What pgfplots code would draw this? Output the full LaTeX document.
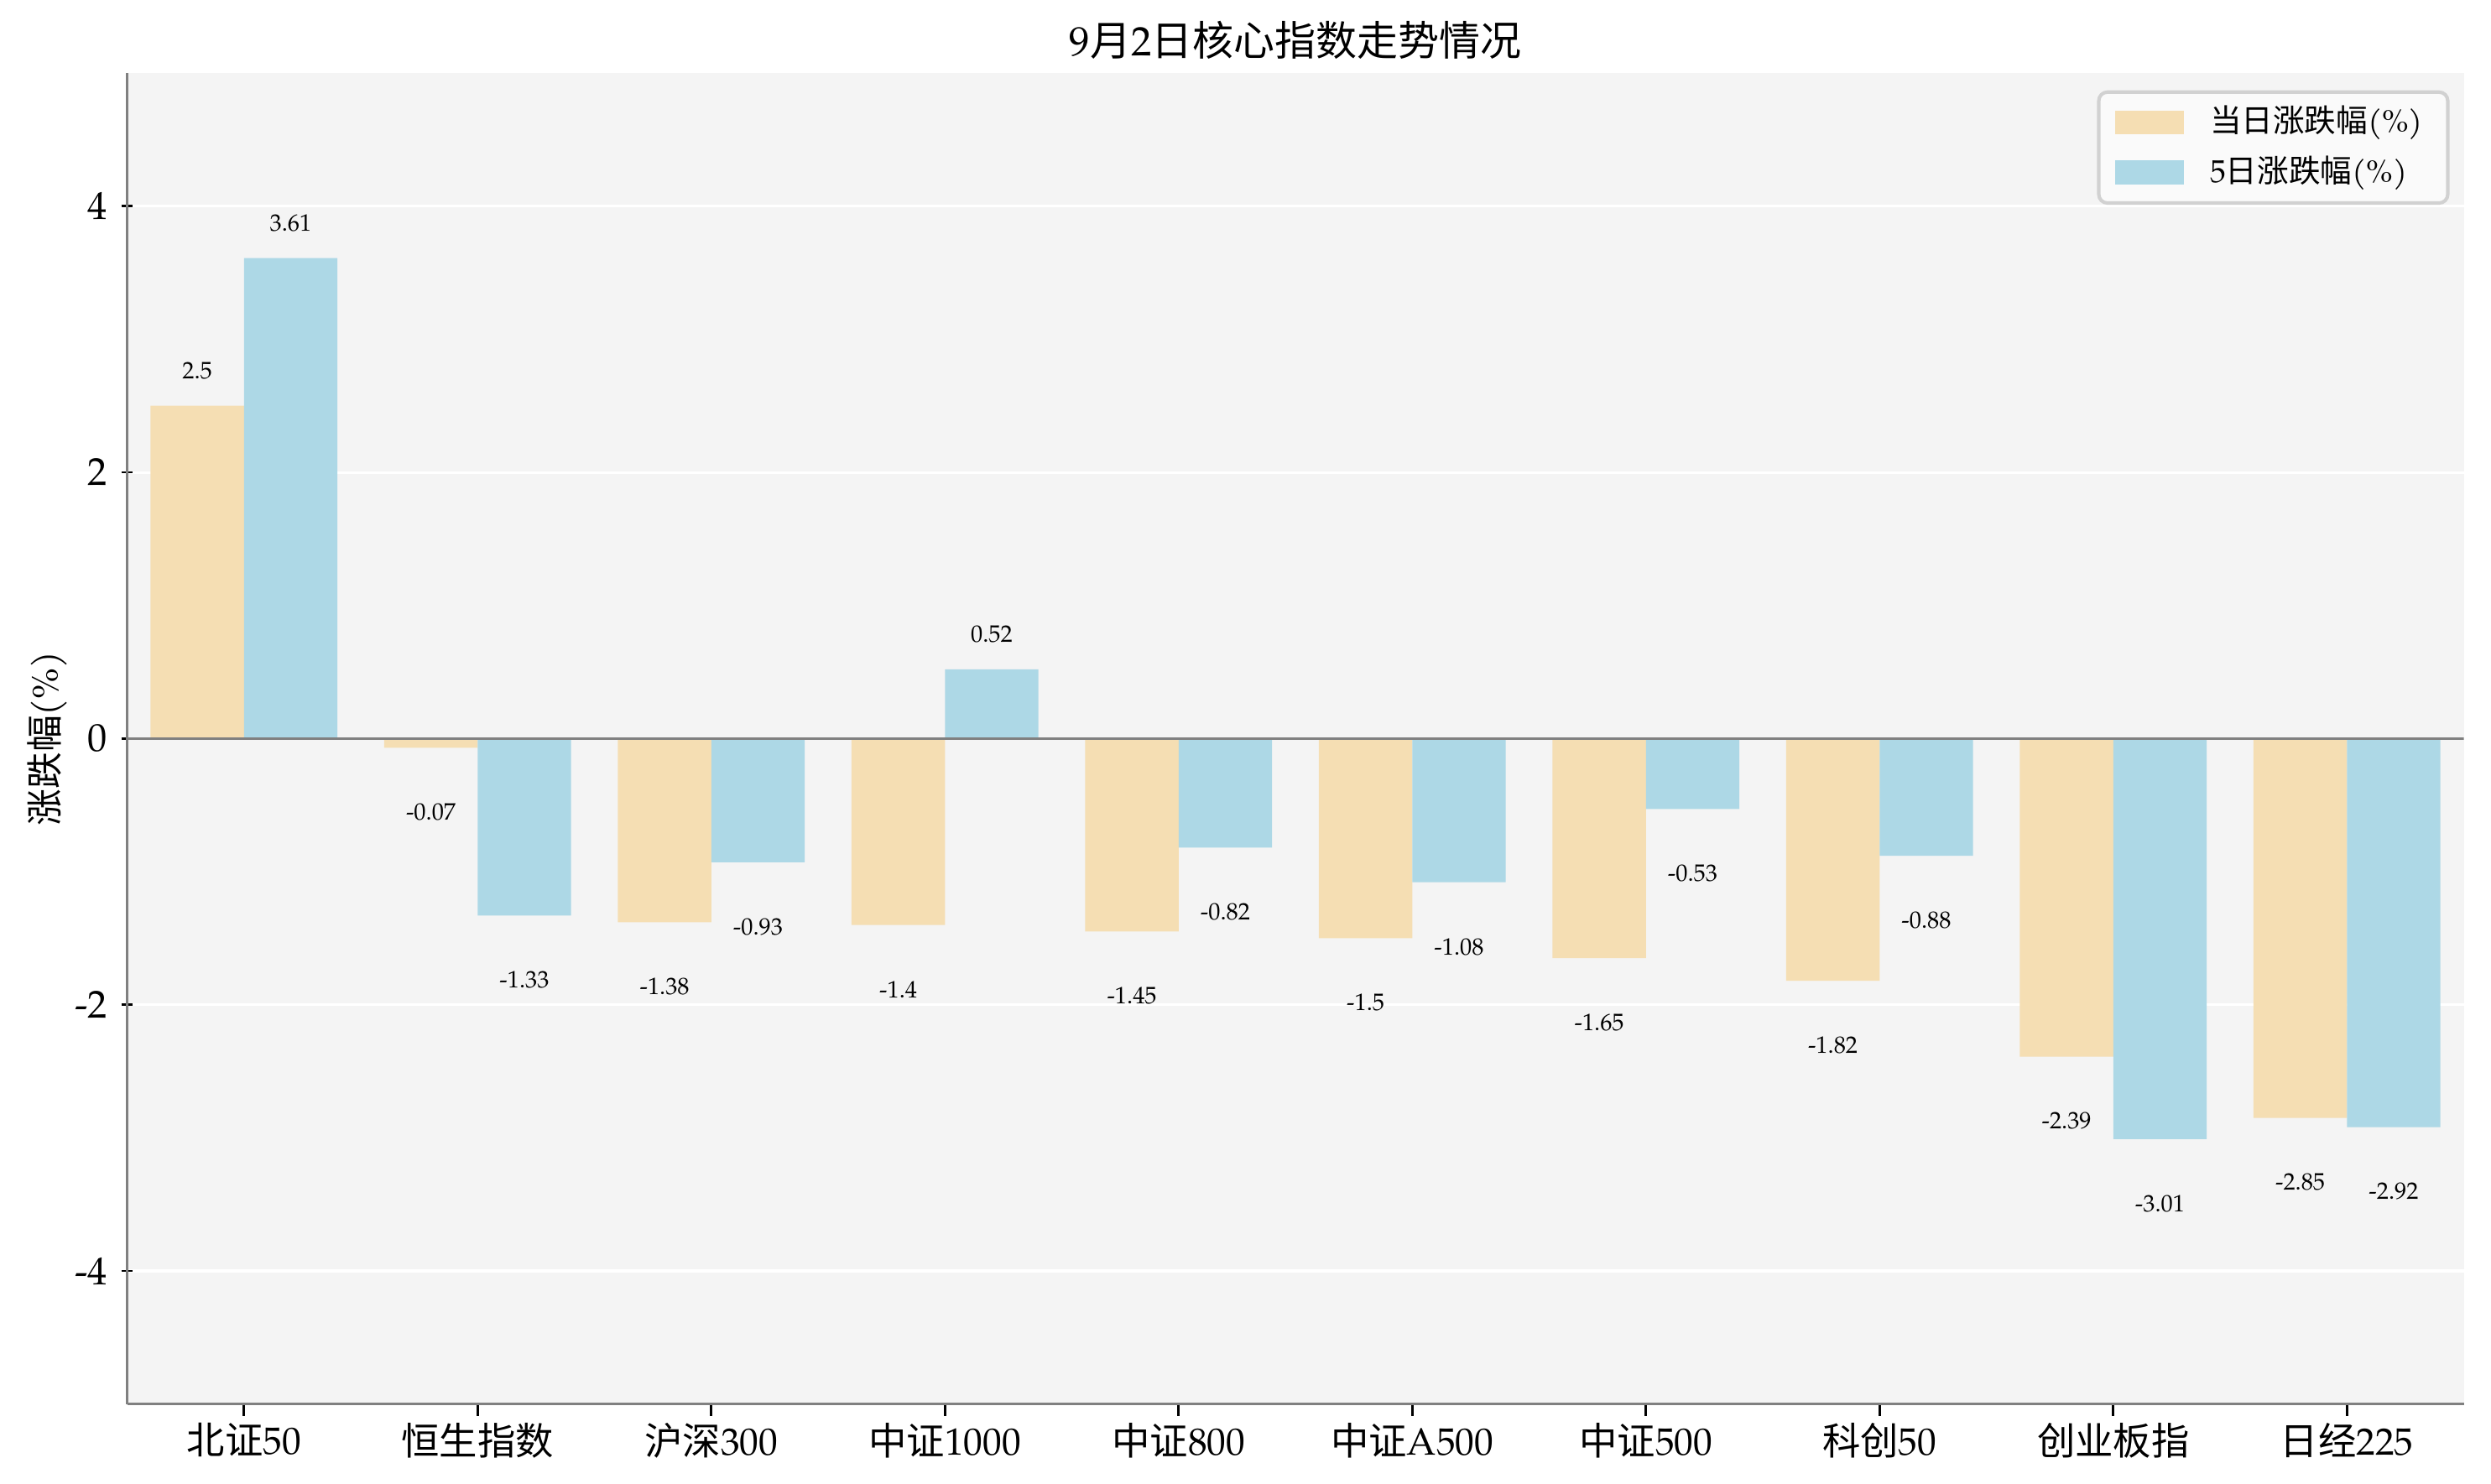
\documentclass[border=0pt]{standalone}
\usepackage{pgfplots}
\pgfplotsset{compat=1.18}
\usepackage{pgfplotstable}
\usepackage{fontspec}
\setmainfont{TeX Gyre Pagella}
\newfontfamily\cjk{Noto Sans CJK SC}
\newcommand\zh[1]{{\cjk #1}}
\definecolor{wheatc}{HTML}{F5DEB3}
\definecolor{lblue}{HTML}{ADD8E6}
\definecolor{bgc}{HTML}{F4F4F4}
\definecolor{axc}{HTML}{808080}

\pgfplotstableread{
x y lab
0 2.5 2.5
1 -0.07 -0.07
2 -1.38 -1.38
3 -1.4 -1.4
4 -1.45 -1.45
5 -1.5 -1.5
6 -1.65 -1.65
7 -1.82 -1.82
8 -2.39 -2.39
9 -2.85 -2.85
}\dayt
\pgfplotstableread{
x y lab
0 3.61 3.61
1 -1.33 -1.33
2 -0.93 -0.93
3 0.52 0.52
4 -0.82 -0.82
5 -1.08 -1.08
6 -0.53 -0.53
7 -0.88 -0.88
8 -3.01 -3.01
9 -2.92 -2.92
}\fivet

\begin{document}
\begin{tikzpicture}
\useasboundingbox (-29.4pt,-18.4pt) rectangle (546.6pt,324.7pt);
\begin{axis}[
  at={(0,0)}, anchor=south west,
  scale only axis, width=540.3pt, height=307.8pt,
  xmin=-0.5, xmax=9.5, ymin=-5, ymax=5,
  axis background/.style={fill=bgc},
  axis x line*=bottom, axis y line*=left,
  axis line style={-, draw=axc, line width=0.7pt},
  tick align=center, major tick length=2.7pt,
  tick style={black, line width=0.5pt},
  xtick={0,...,9},
  xticklabels={{\zh{北证}50},{\zh{恒生指数}},{\zh{沪深}300},{\zh{中证}1000},{\zh{中证}800},{\zh{中证}A500},{\zh{中证}500},{\zh{科创}50},{\zh{创业板指}},{\zh{日经}225}},
  ytick={-4,-2,0,2,4},
  yticklabels={-4,-2,0,2,4},
  xticklabel style={font=\fontsize{8.8}{10}\selectfont, inner sep=0pt, yshift=-1.5pt},
  yticklabel style={font=\fontsize{9}{10}\selectfont, inner sep=0pt, xshift=-3pt},
  ymajorgrids, grid style={white, line width=0.6pt},
  ylabel={\zh{涨跌幅}(\%)},
  every axis y label/.style={at={([xshift=-18.4pt]rel axis cs:0,0.5)}, rotate=90, anchor=center, font=\fontsize{8.5}{10}\selectfont},
  title={9\zh{月}2\zh{日核心指数走势情况}},
  every axis title/.style={at={([yshift=7.7pt]rel axis cs:0.5,1)}, anchor=center, font=\fontsize{9.5}{11}\selectfont},
  ybar, bar width=0.4,
  legend cell align=left,
  legend style={at={(1,1)}, anchor=north east, xshift=-3.3pt, yshift=-4pt,
    draw=black!18, fill=white!98!black, rounded corners=2pt, line width=0.8pt,
    font=\fontsize{7.3}{8}\selectfont, inner xsep=3.7pt, inner ysep=1.2pt,
    row sep=0pt, column sep=4pt},
  point meta=explicit symbolic,
  nodes near coords,
  visualization depends on={\thisrow{y} \as \rawy},
  every node near coord/.append style={font=\fontsize{5.5}{6}\selectfont, anchor=center, yshift={ifthenelse(\rawy>0,8.1,-14.9)}},
]
\addplot[fill=wheatc, draw=none, bar shift=-0.2,
  legend image code/.code={\fill[wheatc, sharp corners] (0pt,-2.8pt) rectangle (16pt,2.8pt);}]
  table[x=x, y=y, meta=lab]{\dayt};
\addlegendentry{\zh{当日涨跌幅}(\%)}
\addplot[fill=lblue, draw=none, bar shift=0.2,
  legend image code/.code={\fill[lblue, sharp corners] (0pt,-2.8pt) rectangle (16pt,2.8pt);}]
  table[x=x, y=y, meta=lab]{\fivet};
\addlegendentry{5\zh{日涨跌幅}(\%)}
\draw[axc, line width=0.5pt] (axis cs:-0.5,0) -- (axis cs:9.5,0);
\end{axis}
\end{tikzpicture}
\end{document}
